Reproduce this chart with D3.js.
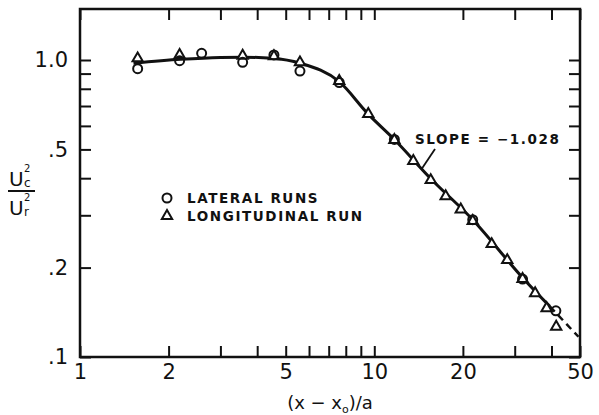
<!DOCTYPE html>
<html>
<head>
<meta charset="utf-8">
<script src="https://cdn.jsdelivr.net/npm/d3@7"></script>
<style>
  body { margin: 0; background: #fff; }
  svg { display: block; }
  .tick text { font-family: "DejaVu Sans", sans-serif; font-size: 21px; fill: #111; }
  .lbl { font-family: "DejaVu Sans", sans-serif; font-weight: bold; font-size: 13.5px; letter-spacing: 1.6px; fill: #111; }
</style>
</head>
<body>
<script>
// data
var lateralX = [1.57, 2.18, 2.59, 3.57, 4.56, 5.59, 7.6, 11.7, 21.6, 31.9, 41.4];
var lateralY = [0.935, 0.995, 1.053, 0.982, 1.04, 0.918, 0.84, 0.54, 0.29, 0.183, 0.143];

var longX = [1.57, 2.18, 3.57, 4.56, 5.59, 7.6, 9.54, 11.7, 13.57, 15.55, 17.48, 19.67, 21.6, 25.06, 28.3, 31.9, 35.2, 38.5, 41.5];
var longY = [1.013, 1.04, 1.034, 1.03, 0.982, 0.85, 0.658, 0.538, 0.457, 0.394, 0.348, 0.314, 0.287, 0.24, 0.212, 0.183, 0.164, 0.146, 0.1264];

// fitted curve (solid) and extrapolation (dashed)
var fitX = [1.52, 2.2, 3.0, 3.6, 4.5, 5.6, 7.6, 9.5, 11.7, 15.5, 21.6, 31.9, 39.5];
var fitY = [0.975, 1.005, 1.02, 1.022, 1.013, 0.975, 0.845, 0.66, 0.54, 0.40, 0.29, 0.185, 0.148];
var dashX = [39.5, 49.4];
var dashY = [0.148, 0.117];

var xTicks = [1, 2, 3, 4, 5, 6, 7, 8, 9, 10, 20, 30, 40, 50];
var xLabels = [1, 2, 5, 10, 20, 50];
var yTicks = [0.1, 0.2, 0.3, 0.4, 0.5, 0.6, 0.7, 0.8, 0.9, 1.0];
var yLabels = {"0.1": ".1", "0.2": ".2", "0.5": ".5", "1": "1.0"};

//positioning/sizing
var W = 599, H = 415,
    pLeft = 80, pRight = 580, pTop = 9, pBottom = 357;

var x = d3.scaleLog().domain([1, 50]).range([pLeft, pRight]),
    y = d3.scaleLog().domain([0.1, 1.485]).range([pBottom, pTop]);

var svg = d3.select("body").append("svg")
    .attr("width", W)
    .attr("height", H);

// axes, ticks pointing inward
function fmtX(d) { return xLabels.indexOf(d) >= 0 ? String(d) : ""; }
function fmtY(d) { return yLabels[String(d)] || ""; }

svg.append("g")
   .attr("transform", "translate(0," + pBottom + ")")
   .call(d3.axisBottom(x).tickValues(xTicks).tickFormat(fmtX).tickSize(-11).tickPadding(7));
svg.append("g")
   .attr("transform", "translate(0," + pTop + ")")
   .call(d3.axisTop(x).tickValues(xTicks).tickFormat("").tickSize(-11));
svg.append("g")
   .attr("transform", "translate(" + pLeft + ",0)")
   .call(d3.axisLeft(y).tickValues(yTicks).tickFormat(fmtY).tickSize(-11).tickPadding(12));
svg.append("g")
   .attr("transform", "translate(" + pRight + ",0)")
   .call(d3.axisRight(y).tickValues(yTicks).tickFormat("").tickSize(-11));

svg.selectAll(".domain").remove();
svg.selectAll(".tick line").attr("stroke", "#111").attr("stroke-width", 2);

svg.append("rect")
   .attr("x", pLeft).attr("y", pTop)
   .attr("width", pRight - pLeft).attr("height", pBottom - pTop)
   .attr("fill", "none").attr("stroke", "#111").attr("stroke-width", 2.5);

// curve
var line = d3.line()
    .x(d => x(d[0]))
    .y(d => y(d[1]))
    .curve(d3.curveMonotoneX);

svg.append("path")
   .datum(d3.zip(fitX, fitY))
   .attr("d", line)
   .attr("fill", "none").attr("stroke", "#111").attr("stroke-width", 3);

svg.append("path")
   .datum(d3.zip(dashX, dashY))
   .attr("d", line)
   .attr("fill", "none").attr("stroke", "#111").attr("stroke-width", 2.5)
   .attr("stroke-dasharray", "7,5");

// markers
var tri = d3.symbol().type(d3.symbolTriangle).size(46);

svg.append("g").selectAll("path")
   .data(d3.zip(longX, longY))
   .enter().append("path")
   .attr("d", tri)
   .attr("transform", d => "translate(" + x(d[0]) + "," + y(d[1]) + ")")
   .attr("fill", "#fff").attr("stroke", "#111").attr("stroke-width", 2);

svg.append("g").selectAll("circle")
   .data(d3.zip(lateralX, lateralY))
   .enter().append("circle")
   .attr("cx", d => x(d[0]))
   .attr("cy", d => y(d[1]))
   .attr("r", 4.5)
   .attr("fill", "none").attr("stroke", "#111").attr("stroke-width", 2);

// legend
svg.append("circle")
   .attr("cx", 167).attr("cy", 198).attr("r", 4.5)
   .attr("fill", "none").attr("stroke", "#111").attr("stroke-width", 2);
svg.append("path")
   .attr("d", tri)
   .attr("transform", "translate(167,216)")
   .attr("fill", "none").attr("stroke", "#111").attr("stroke-width", 2);
svg.append("text").attr("class", "lbl").attr("x", 187).attr("y", 203).text("LATERAL RUNS");
svg.append("text").attr("class", "lbl").attr("x", 187).attr("y", 221).text("LONGITUDINAL RUN");

// slope annotation
svg.append("text").attr("class", "lbl")
   .attr("x", x(13.75)).attr("y", y(0.542) + 5)
   .text("SLOPE = \u22121.028");
svg.append("line")
   .attr("x1", x(16.08)).attr("y1", y(0.502))
   .attr("x2", x(14.5)).attr("y2", y(0.43))
   .attr("stroke", "#111").attr("stroke-width", 1.8);

// axis titles
svg.append("text")
   .attr("x", (pLeft + pRight) / 2).attr("y", 409)
   .attr("text-anchor", "middle")
   .style("font-family", "DejaVu Sans, sans-serif").style("font-size", "18px").style("fill", "#111")
   .html('(x \u2212 x<tspan font-size="11px" dy="4">o</tspan><tspan dy="-4">)/a</tspan>');

// U_c^2 / U_r^2 with sub/superscripts stacked
var yl = svg.append("g").style("font-family", "DejaVu Sans, sans-serif").style("fill", "#111");
yl.append("text").attr("x", 9).attr("y", 186).style("font-size", "20px").text("U");
yl.append("text").attr("x", 24).attr("y", 172).style("font-size", "10px").text("2");
yl.append("text").attr("x", 24).attr("y", 187).style("font-size", "12px").text("c");
yl.append("line").attr("x1", 8).attr("x2", 35).attr("y1", 191).attr("y2", 191)
  .attr("stroke", "#111").attr("stroke-width", 2);
yl.append("text").attr("x", 9).attr("y", 215).style("font-size", "20px").text("U");
yl.append("text").attr("x", 24).attr("y", 201).style("font-size", "10px").text("2");
yl.append("text").attr("x", 24).attr("y", 216).style("font-size", "12px").text("r");
</script>
</body>
</html>
